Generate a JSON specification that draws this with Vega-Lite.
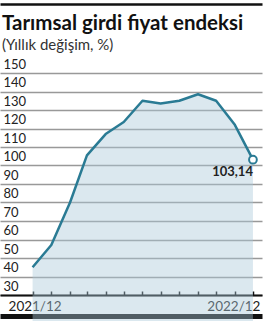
{
  "$schema": "https://vega.github.io/schema/vega-lite/v6.json",
  "autosize": "none",
  "width": 262,
  "height": 222,
  "padding": {"left": 0, "top": 73, "right": 2, "bottom": 26},
  "background": "white",
  "config": {
    "view": {"stroke": null},
    "font": "Lato",
    "locale": {"number": {"decimal": ",", "thousands": ".", "grouping": [3], "currency": ["", " TL"]}}
  },
  "title": {
    "text": "Tarımsal girdi fiyat endeksi",
    "subtitle": "(Yıllık değişim, %)",
    "anchor": "start",
    "frame": "group",
    "offset": -49,
    "dx": 2,
    "font": "Lato",
    "fontSize": 20.5,
    "fontWeight": "bold",
    "color": "#111",
    "subtitleFont": "Lato",
    "subtitleFontSize": 15,
    "subtitleColor": "#333",
    "subtitlePadding": 4
  },
  "data": {
    "values": [
      {"date": "2021-12-01", "value": 45},
      {"date": "2022-01-01", "value": 57},
      {"date": "2022-02-01", "value": 80},
      {"date": "2022-03-01", "value": 105.5},
      {"date": "2022-04-01", "value": 117},
      {"date": "2022-05-01", "value": 123.5},
      {"date": "2022-06-01", "value": 135},
      {"date": "2022-07-01", "value": 133.5},
      {"date": "2022-08-01", "value": 135},
      {"date": "2022-09-01", "value": 138.5},
      {"date": "2022-10-01", "value": 135},
      {"date": "2022-11-01", "value": 122},
      {"date": "2022-12-01", "value": 103.14}
    ]
  },
  "encoding": {
    "y": {
      "field": "value", "type": "quantitative",
      "scale": {"domain": [30, 150], "zero": false, "nice": false},
      "axis": {
        "title": null,
        "values": [30, 40, 50, 60, 70, 80, 90, 100, 110, 120, 130, 140, 150],
        "grid": true,
        "gridColor": "#999",
        "gridWidth": 1.5,
        "domain": false,
        "ticks": false,
        "labelAlign": "left",
        "labelBaseline": "bottom",
        "labelPadding": -3,
        "labelOffset": -2,
        "labelOverlap": false,
        "labelFont": "Lato",
        "labelFontSize": 13,
        "labelColor": "#222"
      }
    }
  },
  "resolve": {"axis": {"x": "independent"}},
  "layer": [
    {
      "mark": {"type": "area", "color": "#a9c8da", "opacity": 0.42},
      "encoding": {
        "x": {
          "field": "date", "type": "temporal",
          "scale": {"type": "utc", "domain": [{"year": 2021, "month": 10, "date": 8, "utc": true}, {"year": 2022, "month": 12, "date": 16, "utc": true}]},
          "axis": {
            "title": null,
            "orient": "bottom",
            "values": [
              {"year": 2021, "month": 12, "date": 1, "utc": true},
              {"year": 2022, "month": 1, "date": 1, "utc": true},
              {"year": 2022, "month": 2, "date": 1, "utc": true},
              {"year": 2022, "month": 3, "date": 1, "utc": true},
              {"year": 2022, "month": 4, "date": 1, "utc": true},
              {"year": 2022, "month": 5, "date": 1, "utc": true},
              {"year": 2022, "month": 6, "date": 1, "utc": true},
              {"year": 2022, "month": 7, "date": 1, "utc": true},
              {"year": 2022, "month": 8, "date": 1, "utc": true},
              {"year": 2022, "month": 9, "date": 1, "utc": true},
              {"year": 2022, "month": 10, "date": 1, "utc": true},
              {"year": 2022, "month": 11, "date": 1, "utc": true},
              {"year": 2022, "month": 12, "date": 1, "utc": true}
            ],
            "labelExpr": "utcmonth(datum.value) == 11 ? utcFormat(datum.value, '%Y/%m') : ''",
            "labelAlign": {"condition": {"test": "utcyear(datum.value) == 2022 && utcmonth(datum.value) == 11", "value": "right"}, "value": "center"},
            "labelOffset": {"condition": {"test": "utcyear(datum.value) == 2022 && utcmonth(datum.value) == 11", "value": 7}, "value": 2},
            "labelFont": "Lato",
            "labelFontSize": 13.5,
            "labelColor": "#222",
            "labelBaseline": "top",
            "labelPadding": 8,
            "labelOverlap": false,
            "labelFlush": false,
            "tickSize": -4,
            "tickColor": "#111",
            "tickWidth": 1.5,
            "domainColor": "#111",
            "domainWidth": 2,
            "grid": false
          }
        }
      }
    },
    {
      "mark": {"type": "line", "color": "#2a7b94", "strokeWidth": 2.5, "strokeJoin": "round"},
      "encoding": {
        "x": {
          "field": "date", "type": "temporal",
          "axis": {"orient": "top", "offset": 69, "title": null, "labels": false, "ticks": false, "grid": false, "domainColor": "#111", "domainWidth": 2.5}
        }
      }
    },
    {
      "transform": [{"filter": "utcyear(toDate(datum.date)) == 2022 && utcmonth(toDate(datum.date)) == 11"}],
      "mark": {"type": "point", "filled": true, "fill": "white", "stroke": "#2a7b94", "strokeWidth": 2, "size": 60, "opacity": 1},
      "encoding": {
        "x": {
          "field": "date", "type": "temporal",
          "axis": {"orient": "bottom", "offset": 21, "title": null, "labels": false, "ticks": false, "grid": false, "domainColor": "#111", "domainWidth": 5}
        }
      }
    },
    {
      "transform": [{"filter": "utcyear(toDate(datum.date)) == 2022 && utcmonth(toDate(datum.date)) == 11"}],
      "mark": {"type": "text", "align": "right", "baseline": "alphabetic", "dy": 16, "font": "Lato", "fontSize": 13, "fontWeight": "bold", "color": "#222"},
      "encoding": {
        "x": {"field": "date", "type": "temporal", "axis": null},
        "text": {"field": "value", "type": "quantitative", "format": ",.2f"}
      }
    }
  ]
}
